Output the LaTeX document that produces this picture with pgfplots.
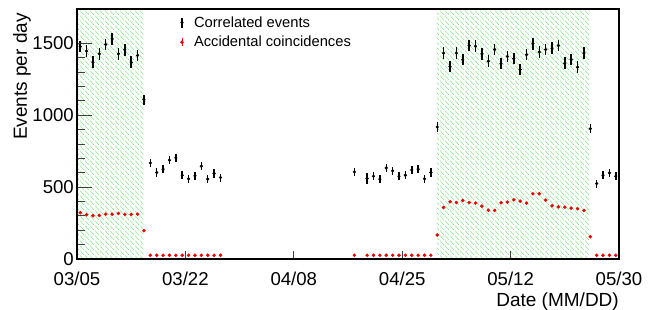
\documentclass[border=0pt]{standalone}
\usepackage{fontspec}
\setmainfont{Liberation Sans}
\usepackage{pgfplots}
\pgfplotsset{compat=1.18}
\usepackage{pgfplotstable}
\usetikzlibrary{patterns.meta}
\definecolor{hatchgreen}{RGB}{70,215,70}
\definecolor{rootred}{RGB}{235,0,0}

\tikzdeclarepattern{
  name=greenhatch,
  type=uncolored,
  bottom left={(0bp,0bp)},
  top right={(5bp,5bp)},
  tile size={(5bp,5bp)},
  code={\draw[line width=0.6bp, dash pattern=on 0.9bp off 0.9bp] (0bp,5bp) -- (5bp,0bp);}
}

\pgfplotstableread{
x y e
0.5 1479 40
1.5 1447 40
2.5 1370 40
3.5 1428 40
4.5 1493 40
5.5 1532 40
6.5 1428 40
7.5 1456 40
8.5 1370 40
9.5 1417 40
10.5 1109 35
11.5 669 28
12.5 602 28
13.5 625 28
14.5 688 28
15.5 704 28
16.5 583 28
17.5 558 28
18.5 579 28
19.5 646 28
20.5 556 28
21.5 595 28
22.5 567 28
43.5 606 30
45.5 560 38
46.5 576 28
47.5 556 28
48.5 634 28
49.5 613 28
50.5 576 28
51.5 583 28
52.5 620 28
53.5 625 28
54.5 558 28
55.5 602 28
56.5 919 32
57.5 1433 40
58.5 1340 40
59.5 1433 40
60.5 1387 40
61.5 1486 40
62.5 1481 40
63.5 1428 40
64.5 1377 40
65.5 1458 40
66.5 1359 40
67.5 1410 40
68.5 1394 40
69.5 1319 40
70.5 1422 40
71.5 1498 40
72.5 1440 40
73.5 1458 40
74.5 1467 40
75.5 1486 40
76.5 1363 40
77.5 1387 40
78.5 1335 40
79.5 1433 40
80.5 907 32
81.5 525 28
82.5 583 28
83.5 600 28
84.5 576 28
}\corr

\pgfplotstableread{
x y
0.5 322
1.5 308
2.5 301
3.5 303
4.5 312
5.5 312
6.5 317
7.5 310
8.5 310
9.5 312
10.5 197
11.5 26
12.5 26
13.5 26
14.5 26
15.5 26
16.5 26
17.5 26
18.5 26
19.5 26
20.5 26
21.5 26
22.5 26
43.5 26
45.5 26
46.5 26
47.5 26
48.5 26
49.5 26
50.5 26
51.5 26
52.5 26
53.5 26
54.5 26
55.5 26
56.5 167
57.5 359
58.5 398
59.5 393
60.5 407
61.5 393
62.5 389
63.5 368
64.5 340
65.5 338
66.5 391
67.5 396
68.5 412
69.5 403
70.5 389
71.5 454
72.5 454
73.5 410
74.5 370
75.5 363
76.5 361
77.5 354
78.5 350
79.5 338
80.5 155
81.5 26
82.5 26
83.5 26
84.5 26
}\acc

\begin{document}
\begin{tikzpicture}
\useasboundingbox (-77bp,-51bp) rectangle (578bp,259bp);
\begin{axis}[
  at={(0,0)}, anchor=south west, scale only axis,
  width=542bp, height=250bp,
  xmin=0, xmax=85, ymin=0, ymax=1740,
  axis on top,
  axis line style={line width=1.2bp},
  tick pos=left, tick align=inside,
  xtick={0,17,34,51,68,85},
  xticklabels={03/05,03/22,04/08,04/25,05/12,05/30},
  ytick={0,500,1000,1500},
  minor y tick num=4,
  major tick length=15bp, minor tick length=8bp,
  xtick style={/pgfplots/major tick length=8bp},
  every tick/.style={black!75, line width=1bp},
  scaled y ticks=false,
  /pgf/number format/assume math mode=true,
  /pgf/number format/set thousands separator={},
  ticklabel style={font=\fontsize{18.6bp}{22bp}\selectfont},
  yticklabel style={anchor=east, inner sep=0pt, xshift=-3bp},
  xticklabel style={anchor=north, inner sep=0pt, yshift=-12.5bp},
  xlabel={Date (MM/DD)},
  xlabel style={at={(axis description cs:1,-0.188)}, anchor=base east, inner sep=0pt, font=\fontsize{19bp}{22bp}\selectfont},
  ylabel={Events per day},
  ylabel style={at={(axis description cs:-0.0923,0.984)}, anchor=base east, inner sep=0pt, font=\fontsize{19bp}{22bp}\selectfont},
  legend style={draw=none, fill=none, at={(axis description cs:0.1827,0.978)}, anchor=north west,
    font=\fontsize{14.7bp}{17bp}\selectfont, row sep=3.5bp, inner sep=0pt, outer sep=0pt,
    cells={anchor=west}},
]
\addplot[draw=none, pattern=greenhatch, pattern color=hatchgreen, forget plot]
  coordinates {(0,0) (10.4,0) (10.4,1740) (0,1740)} -- cycle;
\addplot[draw=none, pattern=greenhatch, pattern color=hatchgreen, forget plot]
  coordinates {(56.45,0) (80.45,0) (80.45,1740) (56.45,1740)} -- cycle;

\addplot[only marks, black, mark=*, mark size=1.4bp,
  legend image code/.code={\draw[black, line width=1.5bp] (0bp,-5bp) -- (0bp,5bp);
    \fill[black] (0bp,0bp) circle (1.4bp); \path[draw=none, fill=none] (-6bp,0bp) (10bp,0bp);},
  error bars/.cd, y dir=both, y explicit, error mark=none,
  error bar style={line width=1.5bp, black}]
  table[x=x, y=y, y error=e] {\corr};
\addplot[only marks, rootred, mark=*, mark size=1.55bp,
  legend image code/.code={\draw[rootred, line width=0.6bp] (0bp,-4bp) -- (0bp,4bp);
    \fill[rootred] (0bp,0bp) circle (1.55bp); \path[draw=none, fill=none] (-6bp,0bp) (10bp,0bp);}]
  table[x=x, y=y] {\acc};
\legend{Correlated events, Accidental coincidences}
\end{axis}
\end{tikzpicture}
\end{document}
